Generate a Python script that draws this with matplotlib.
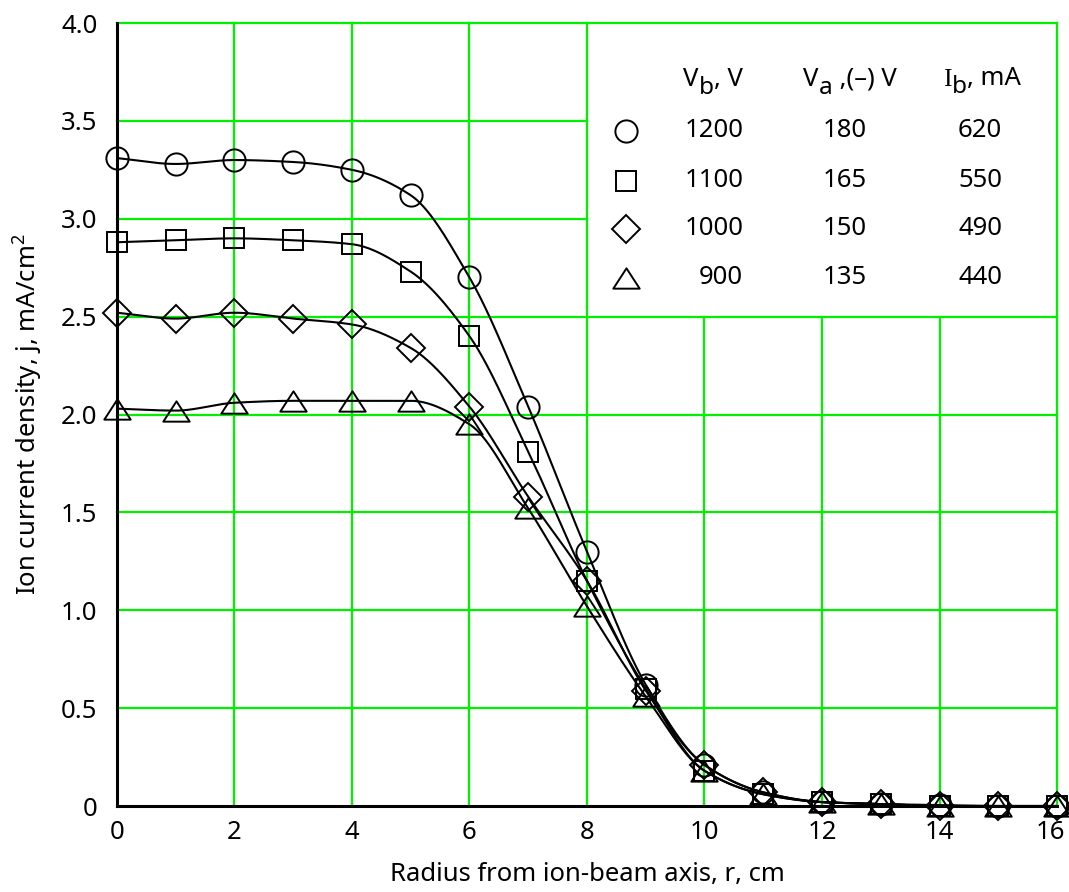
import numpy as np
import matplotlib
matplotlib.use("Agg")
import matplotlib.pyplot as plt
from matplotlib.path import Path
from matplotlib.transforms import ScaledTranslation

plt.rcParams['font.family'] = ['Noto Sans', 'DejaVu Sans']
plt.rcParams['mathtext.fontset'] = 'custom'
plt.rcParams['mathtext.rm'] = 'Noto Sans'

# ---------------- data ----------------
radius = [0, 1, 2, 3, 4, 5, 6, 7, 8, 9, 10, 11, 12, 13, 14, 15, 16]
j_1200 = [3.31, 3.28, 3.30, 3.29, 3.25, 3.12, 2.70, 2.04, 1.30, 0.62, 0.21, 0.07, 0.02, 0.01, 0.005, 0.0, 0.0]
j_1100 = [2.88, 2.89, 2.90, 2.89, 2.87, 2.73, 2.40, 1.81, 1.15, 0.60, 0.18, 0.06, 0.02, 0.01, 0.0, 0.0, 0.0]
j_1000 = [2.52, 2.49, 2.52, 2.49, 2.46, 2.34, 2.04, 1.58, 1.15, 0.59, 0.21, 0.07, 0.02, 0.01, 0.0, 0.0, 0.0]
j_900 = [2.03, 2.02, 2.06, 2.07, 2.07, 2.07, 1.95, 1.52, 1.02, 0.56, 0.18, 0.06, 0.02, 0.01, 0.0, 0.0, 0.0]

series = [j_1200, j_1100, j_1000, j_900]
vb_vals = ['1200', '1100', '1000', '900']
va_vals = ['180', '165', '150', '135']
ib_vals = ['620', '550', '490', '440']

x_ticks = [0, 2, 4, 6, 8, 10, 12, 14, 16]
y_ticks = [0, 0.5, 1.0, 1.5, 2.0, 2.5, 3.0, 3.5, 4.0]
y_tick_labels = ['0', '0.5', '1.0', '1.5', '2.0', '2.5', '3.0', '3.5', '4.0']

GREEN = '#00f000'
FS = 18.5

# wide, short open triangle like the reference
tri = Path([(-1, -0.77), (1, -0.77), (0, 0.77), (-1, -0.77)],
           [Path.MOVETO, Path.LINETO, Path.LINETO, Path.CLOSEPOLY])
markers = ['o', 's', 'D', tri]
marker_sizes = [16, 14, 14.5, 19]


def pchip(x, y, xn):
    x = np.asarray(x, float)
    y = np.asarray(y, float)
    h = np.diff(x)
    d = np.diff(y) / h
    n = len(x)
    m = np.zeros(n)
    for k in range(1, n - 1):
        if d[k - 1] * d[k] > 0:
            w1 = 2 * h[k] + h[k - 1]
            w2 = h[k] + 2 * h[k - 1]
            m[k] = (w1 + w2) / (w1 / d[k - 1] + w2 / d[k])
    m[0] = d[0]
    m[-1] = d[-1]
    idx = np.clip(np.searchsorted(x, xn) - 1, 0, n - 2)
    t = (xn - x[idx]) / h[idx]
    h00 = 2 * t**3 - 3 * t**2 + 1
    h10 = t**3 - 2 * t**2 + t
    h01 = -2 * t**3 + 3 * t**2
    h11 = t**3 - t**2
    return h00 * y[idx] + h10 * h[idx] * m[idx] + h01 * y[idx + 1] + h11 * h[idx] * m[idx + 1]


fig = plt.figure(figsize=(10.69, 8.92), dpi=100)
ax = fig.add_axes([0.1094, 0.0964, 0.8794, 0.8778])
ax.set_xlim(0, 16)
ax.set_ylim(0, 4.0)

# grid lines (green), with the legend area left clear
for xv in x_ticks[1:]:
    top = 4.0 if xv <= 8 or xv == 16 else 2.5
    ax.plot([xv, xv], [0, top], color=GREEN, lw=1.6, zorder=1, clip_on=False)
for yv in y_ticks[1:]:
    right = 16 if yv <= 2.5 or yv == 4.0 else 8
    ax.plot([0, right], [yv, yv], color=GREEN, lw=1.6, zorder=1, clip_on=False)

xs = np.linspace(0, 16, 800)
for ys, mk, ms in zip(series, markers, marker_sizes):
    ax.plot(xs, pchip(radius, ys, xs), color='black', lw=1.5, zorder=3)
    ax.plot(radius, ys, linestyle='none', marker=mk, ms=ms, mfc='none',
            mec='black', mew=1.4, zorder=4, clip_on=False)

for side in ('top', 'right'):
    ax.spines[side].set_visible(False)
for side in ('left', 'bottom'):
    ax.spines[side].set_linewidth(2.2)
    ax.spines[side].set_color('black')
    ax.spines[side].set_zorder(5)

ax.set_xticks(x_ticks)
ax.set_yticks(y_ticks)
ax.set_yticklabels(y_tick_labels)
ax.tick_params(axis='y', length=0, labelsize=FS, pad=14)
ax.tick_params(axis='x', length=0, labelsize=FS, pad=10)
# keep the last x tick label inside the figure
last = ax.get_xticklabels()[-1]
last.set_transform(last.get_transform() + ScaledTranslation(-5 / 72, 0, fig.dpi_scale_trans))

ax.set_xlabel('Radius from ion-beam axis, r, cm', fontsize=FS, labelpad=12)
ax.set_ylabel('Ion current density, j, mA/cm$^\\mathregular{2}$', fontsize=FS, labelpad=12)


# legend table headers, built from pieces so the subscripts stay large
def header(x0, main, sub, rest, main_family=None):
    kw = dict(fontsize=FS, va='baseline', ha='left')
    if main_family:
        t1 = ax.text(x0, 3.679, main, family=main_family, **kw)
    else:
        t1 = ax.text(x0, 3.679, main, **kw)
    t2 = ax.annotate(sub, xy=(1, 0), xycoords=t1, xytext=(0.5, -6), textcoords='offset points',
                     fontsize=FS * 0.95, va='bottom', ha='left')
    ax.annotate(rest, xy=(1, 0), xycoords=(t2, t1), xytext=(0, 0), textcoords='offset points',
                fontsize=FS, va='bottom', ha='left')


header(9.63, 'V', 'b', ', V')
header(11.68, 'V', 'a', ' ,(–) V')
header(14.06, 'I', 'b', ', mA', main_family=['Liberation Serif', 'DejaVu Serif'])

row_y = [3.449, 3.194, 2.949, 2.699]
for ry, mk, ms, vb, va, ib in zip(row_y, markers, marker_sizes, vb_vals, va_vals, ib_vals):
    ax.plot([8.66], [ry], marker=mk, ms=ms, mfc='none', mec='black', mew=1.4, linestyle='none')
    ax.text(10.66, ry, vb, fontsize=FS, ha='right', va='center')
    ax.text(12.39, ry, va, fontsize=FS, ha='center', va='center')
    ax.text(14.69, ry, ib, fontsize=FS, ha='center', va='center')

fig.savefig('out.png', dpi=100, facecolor='white')
